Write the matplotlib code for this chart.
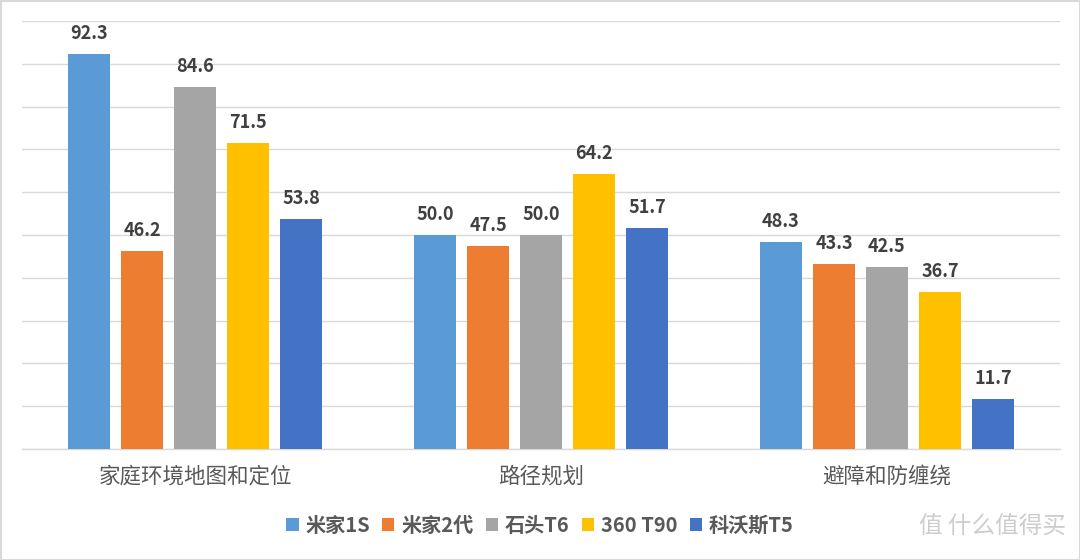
import matplotlib
matplotlib.use("Agg")
import matplotlib.pyplot as plt
from matplotlib.patches import Rectangle
import numpy as np

plt.rcParams['font.family'] = ['Noto Sans CJK SC', 'DejaVu Sans']

categories = ["家庭环境地图和定位", "路径规划", "避障和防缠绕"]
series_names = ["米家1S", "米家2代", "石头T6", "360 T90", "科沃斯T5"]
values = {
    "米家1S": [92.3, 50.0, 48.3],
    "米家2代": [46.2, 47.5, 43.3],
    "石头T6": [84.6, 50.0, 42.5],
    "360 T90": [71.5, 64.2, 36.7],
    "科沃斯T5": [53.8, 51.7, 11.7],
}
colors = ["#5B9BD5", "#ED7D31", "#A5A5A5", "#FFC000", "#4472C4"]

fig = plt.figure(figsize=(10.8, 5.6), dpi=100)
ax = fig.add_axes([22/1080, 1-449/560, 1038/1080, 428/560])

step = 53/346
width = 42/346
x = np.arange(len(categories))
for i, (name, c) in enumerate(zip(series_names, colors)):
    xs = x + (i - 2) * step
    bars = ax.bar(xs, values[name], width=width, color=c, label=name, zorder=3)
    for b, v in zip(bars, values[name]):
        ax.annotate(f"{v:.1f}", (b.get_x() + b.get_width()/2, v),
                    xytext=(0, 8), textcoords="offset points",
                    ha="center", va="bottom", fontsize=13, fontweight="bold",
                    color="#404040")

ax.set_xlim(-0.5, 2.5)
ax.set_ylim(0, 100)
ax.set_yticks(np.arange(0, 101, 10))
ax.set_yticklabels([])
ax.tick_params(axis='y', length=0)
ax.tick_params(axis='x', length=0, pad=12)
ax.set_xticks(x)
ax.set_xticklabels(categories, fontsize=15.5, color="#595959")
ax.grid(axis='y', color="#D9D9D9", linewidth=1, zorder=0)
for s in ["left", "right", "top"]:
    ax.spines[s].set_visible(False)
ax.spines["bottom"].set_color("#D9D9D9")
ax.spines["bottom"].set_linewidth(1)

leg = fig.legend(loc="center", bbox_to_anchor=(540/1080, 1-525/560), ncol=5,
                 frameon=False, fontsize=14.5, handlelength=0.6, handleheight=0.6,
                 handletextpad=0.35, columnspacing=0.6)
for t in leg.get_texts():
    t.set_color("#595959")
    t.set_fontweight("bold")

fig.text(1066/1080, 1-527/560, "值 什么值得买", ha="right", va="center",
         fontsize=17, color="#CDCDCD")

fig.patches.append(Rectangle((0.5/1080, 0.5/560), 1-1/1080, 1-1/560,
                             transform=fig.transFigure, fill=False,
                             edgecolor="#D9D9D9", linewidth=1.5))

fig.savefig("out.png", dpi=100)
